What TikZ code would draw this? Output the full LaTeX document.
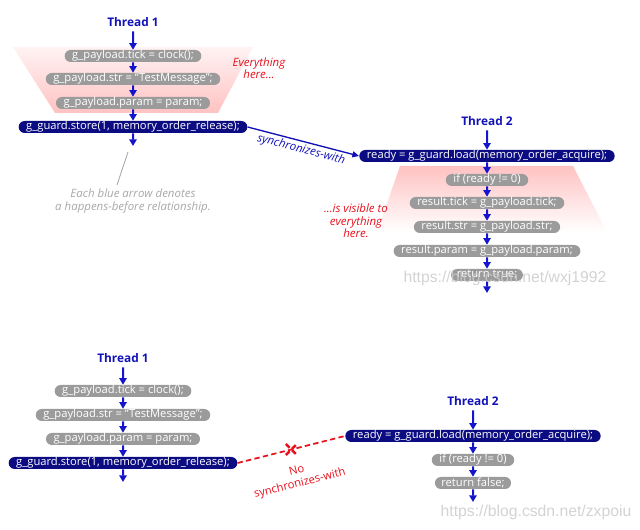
\documentclass[tikz,border=0pt]{standalone}
\usepackage{fontspec}
\setmainfont{Open Sans}
\newfontfamily\wmfont{Liberation Sans}
\usepackage{tikz}
\usetikzlibrary{arrows.meta, shapes.misc}
\definecolor{stmtgray}{HTML}{9B9B9B}
\definecolor{guardnavy}{HTML}{0C0C82}
\definecolor{hbblue}{HTML}{1414CC}
\definecolor{threadblue}{HTML}{1111B8}
\definecolor{notered}{HTML}{E8101C}
\definecolor{notegray}{HTML}{A8A8A8}
\definecolor{visipink}{HTML}{FFC2C2}

\begin{document}
\begin{tikzpicture}[x=0.75pt, y=-0.75pt, font=\fontsize{8.4}{9}\selectfont,
    stmt/.style={rounded rectangle, fill=stmtgray, text=white, inner xsep=2.8pt, inner ysep=0pt, minimum height=9pt},
    guard/.style={stmt, fill=guardnavy},
    thread/.style={text=threadblue, font=\fontsize{8.9}{10}\selectfont\bfseries},
    hb/.style={-{Triangle[length=5pt, width=5.5pt]}, hbblue, line width=1.5pt},
    remark/.style={align=center, font=\fontsize{8.6}{9.4}\selectfont\itshape},
    watermark/.style={text=notegray!60, opacity=0.85, font=\wmfont\fontsize{11.8}{13}\selectfont}]
    \useasboundingbox (0,0) rectangle (640,530);

    % Visibility regions
    \shade[top color=visipink!20, bottom color=visipink] (13,47) -- (253,47) -- (218,113) -- (55,113) -- cycle;
    \shade[top color=visipink, bottom color=white] (400,166) -- (573,166) -- (607,232) -- (377,232) -- cycle;

    % Thread 1 (top)
    \node[thread] (ta) at (133,22) {Thread 1};
    \node[stmt] (tickA) at (133,56) {g\_payload.tick = clock();};
    \node[stmt] (strA) at (133,79) {g\_payload.str = ``TestMessage'';};
    \node[stmt] (paramA) at (133,103) {g\_payload.param = param;};
    \node[guard] (storeA) at (133,127) {g\_guard.store(1, memory\_order\_release);};
    \coordinate (endA) at (133,146);
    \foreach \a/\b in {ta/tickA, tickA/strA, strA/paramA, paramA/storeA, storeA/endA}{
        \draw[hb] (\a) -- (\b);
    }

    % Thread 2 (top)
    \node[thread] (tb) at (487,121) {Thread 2};
    \node[guard] (readyB) at (487,156) {ready = g\_guard.load(memory\_order\_acquire);};
    \node[stmt] (ifB) at (487,180) {if (ready != 0)};
    \node[stmt] (rtickB) at (487,203) {result.tick = g\_payload.tick;};
    \node[stmt] (rstrB) at (487,227) {result.str = g\_payload.str;};
    \node[stmt] (rparamB) at (487,251) {result.param = g\_payload.param;};
    \node[stmt] (retB) at (487,275) {return true;};
    \coordinate (endB) at (487,293);
    \foreach \a/\b in {tb/readyB, readyB/ifB, ifB/rtickB, rtickB/rstrB, rstrB/rparamB, rparamB/retB, retB/endB}{
        \draw[hb] (\a) -- (\b);
    }

    % Synchronizes-with
    \draw[threadblue, line width=1pt, -{Triangle[length=5pt, width=4.5pt]}] (storeA.east) -- (readyB.west)
        node[midway, below, sloped, remark, text=threadblue, inner sep=1.5pt] {synchronizes-with};

    % Annotations
    \node[remark, text=notered] (every) at (259,68) {Everything\\here...};
    \node[remark, text=notered] (visible) at (356,221) {...is visible to\\everything\\here.};
    \node[remark, text=notegray] (note) at (133,201) {Each blue arrow denotes\\a happens-before relationship.};
    \coordinate (leadA) at (128,152);
    \coordinate (leadB) at (117,185);
    \draw[notegray, line width=0.6pt] (leadA) -- (leadB);

    % Thread 1 (bottom)
    \node[thread] (tc) at (123,358) {Thread 1};
    \node[stmt] (tickC) at (123,391) {g\_payload.tick = clock();};
    \node[stmt] (strC) at (123,415) {g\_payload.str = ``TestMessage'';};
    \node[stmt] (paramC) at (123,439) {g\_payload.param = param;};
    \node[guard] (storeC) at (123,463) {g\_guard.store(1, memory\_order\_release);};
    \coordinate (endC) at (123,482);
    \foreach \a/\b in {tc/tickC, tickC/strC, strC/paramC, paramC/storeC, storeC/endC}{
        \draw[hb] (\a) -- (\b);
    }

    % Thread 2 (bottom)
    \node[thread] (td) at (473,401) {Thread 2};
    \node[guard] (readyD) at (473,436) {ready = g\_guard.load(memory\_order\_acquire);};
    \node[stmt] (ifD) at (473,460) {if (ready != 0)};
    \node[stmt] (retD) at (473,483) {return false;};
    \coordinate (endD) at (473,502);
    \foreach \a/\b in {td/readyD, readyD/ifD, ifD/retD, retD/endD}{
        \draw[hb] (\a) -- (\b);
    }

    % No synchronizes-with
    \draw[notered, dash pattern=on 4pt off 2.5pt, line width=1.3pt] (storeC.east) -- (readyD.west)
        node[midway, cross out, draw=notered, line width=1.8pt, minimum size=6.5pt, inner sep=0pt] (nox) {}
        node[midway, below=9pt, sloped, align=center, text=notered, font=\fontsize{8.4}{9.6}\selectfont] {No\\synchronizes-with};

    % Watermarks
    \node[watermark] (wmB) at (505,278) {https://blog.csdn.net/wxj1992};
    \node[watermark] (wmD) at (536,512) {https://blog.csdn.net/zxpoiu};
\end{tikzpicture}
\end{document}
